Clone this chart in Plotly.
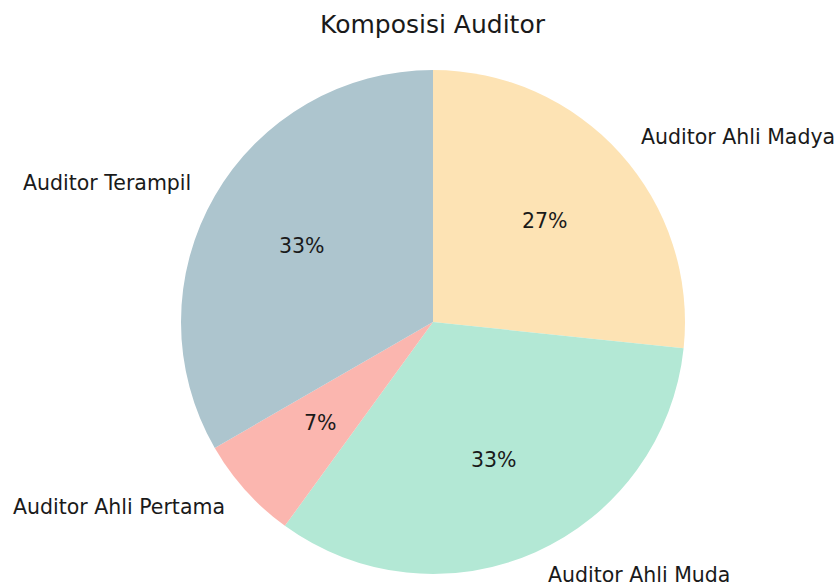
import math
import plotly.graph_objects as go

# Data (matplotlib order: counterclockwise from 12 o'clock)
categories = ["Auditor Terampil", "Auditor Ahli Pertama", "Auditor Ahli Muda", "Auditor Ahli Madya"]
counts = [5, 1, 5, 4]
colors = ["#adc5ce", "#fbb6af", "#b3e8d5", "#fde3b4"]
title_text = "Komposisi Auditor"

W, H = 837, 586
cx, cy, r = 433.0, 322.0, 252.0  # pie centre / radius in pixels


def px_x(x):
    return x / W


def px_y(y):
    return (H - y) / H


# Plotly draws clockwise from 12 o'clock: reverse order for the same layout
fig = go.Figure(go.Pie(
    labels=categories[::-1],
    values=counts[::-1],
    sort=False,
    direction="clockwise",
    rotation=0,
    textinfo="none",
    marker=dict(colors=colors[::-1], line=dict(width=0)),
    showlegend=False,
    domain=dict(x=[px_x(cx - r), px_x(cx + r)],
                y=[px_y(cy + r), px_y(cy - r)]),
))

total = sum(counts)
annotations = []
start = 90.0
font = dict(family="DejaVu Sans", size=20.5, color="#1a1a1a")
for cat, v in zip(categories, counts):
    span = 360.0 * v / total
    mid = math.radians(start + span / 2)
    start += span
    lx = cx + 1.1 * r * math.cos(mid)
    ly = cy - 1.1 * r * math.sin(mid)
    annotations.append(dict(
        x=px_x(lx), y=px_y(ly), xref="paper", yref="paper",
        text=cat, showarrow=False, font=font,
        xanchor="left" if math.cos(mid) > 0 else "right", yanchor="middle"))
    pxx = cx + 0.6 * r * math.cos(mid)
    pyy = cy - 0.6 * r * math.sin(mid)
    annotations.append(dict(
        x=px_x(pxx), y=px_y(pyy), xref="paper", yref="paper",
        text=f"{100.0 * v / total:.0f}%", showarrow=False, font=font,
        xanchor="center", yanchor="middle"))

annotations.append(dict(
    x=px_x(cx), y=px_y(24), xref="paper", yref="paper",
    text=title_text, showarrow=False,
    font=dict(family="DejaVu Sans", size=25, color="#1a1a1a"),
    xanchor="center", yanchor="middle"))

fig.update_layout(
    width=W, height=H,
    margin=dict(l=0, r=0, t=0, b=0),
    paper_bgcolor="white", plot_bgcolor="white",
    annotations=annotations,
)

fig.write_html(
    "out.html",
    config={"displayModeBar": False},
    post_script="document.body.style.margin='0';"
                "document.body.style.overflow='hidden';"
                "document.documentElement.style.overflow='hidden';",
)
